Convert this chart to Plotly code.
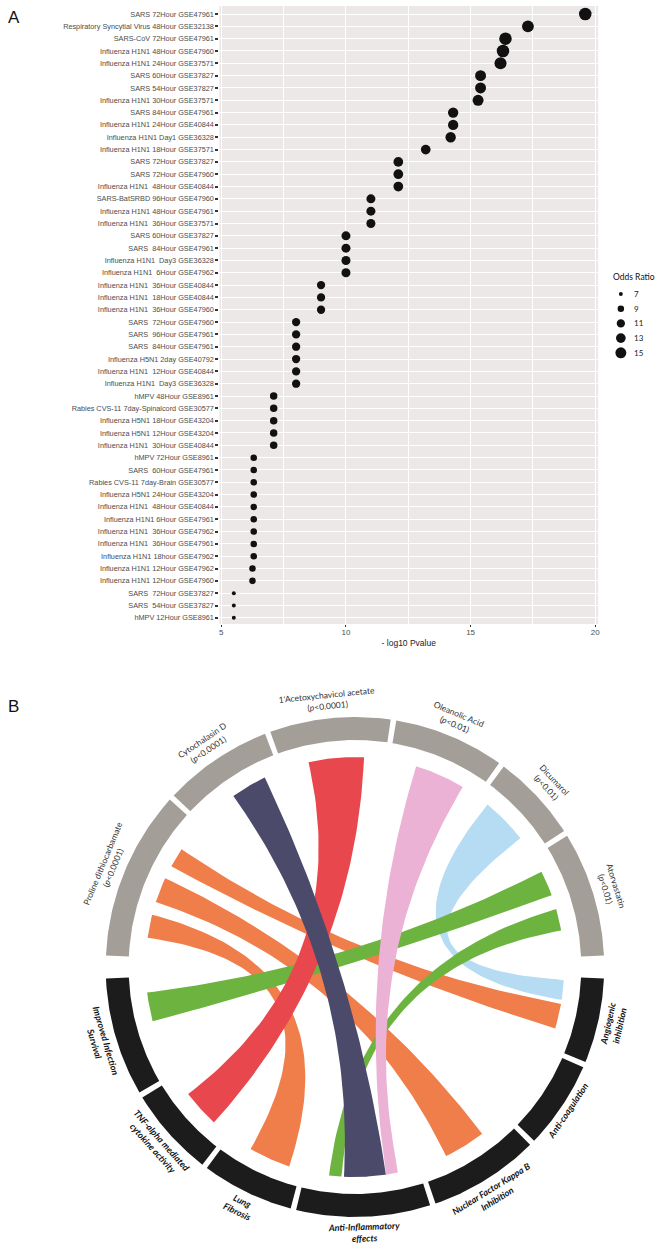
import numpy as np
import plotly.graph_objects as go

W, H = 671, 1250

# ---------------- Panel A data ----------------
datasets = [
    "SARS 72Hour GSE47961", "Respiratory Syncytial Virus 48Hour GSE32138", "SARS-CoV 72Hour GSE47961",
    "Influenza H1N1 48Hour GSE47960", "Influenza H1N1 24Hour GSE37571", "SARS 60Hour GSE37827",
    "SARS 54Hour GSE37827", "Influenza H1N1 30Hour GSE37571", "SARS 84Hour GSE47961",
    "Influenza H1N1 24Hour GSE40844", "Influenza H1N1 Day1 GSE36328", "Influenza H1N1 18Hour GSE37571",
    "SARS 72Hour GSE37827", "SARS 72Hour GSE47960", "Influenza H1N1  48Hour GSE40844",
    "SARS-BatSRBD 96Hour GSE47960", "Influenza H1N1 48Hour GSE47961", "Influenza H1N1  36Hour GSE37571",
    "SARS 60Hour GSE37827", "SARS  84Hour GSE47961", "Influenza H1N1  Day3 GSE36328",
    "Influenza H1N1  6Hour GSE47962", "Influenza H1N1  36Hour GSE40844", "Influenza H1N1  18Hour GSE40844",
    "Influenza H1N1  36Hour GSE47960", "SARS  72Hour GSE47960", "SARS  96Hour GSE47961",
    "SARS  84Hour GSE47961", "Influenza H5N1 2day GSE40792", "Influenza H1N1  12Hour GSE40844",
    "Influenza H1N1  Day3 GSE36328", "hMPV 48Hour GSE8961", "Rabies CVS-11 7day-Spinalcord GSE30577",
    "Influenza H5N1 18Hour GSE43204", "Influenza H5N1 12Hour GSE43204", "Influenza H1N1  30Hour GSE40844",
    "hMPV 72Hour GSE8961", "SARS  60Hour GSE47961", "Rabies CVS-11 7day-Brain GSE30577",
    "Influenza H5N1 24Hour GSE43204", "Influenza H1N1  48Hour GSE40844", "Influenza H1N1 6Hour GSE47961",
    "Influenza H1N1  36Hour GSE47962", "Influenza H1N1  36Hour GSE47961", "Influenza H1N1 18hour GSE47962",
    "Influenza H1N1 12Hour GSE47962", "Influenza H1N1 12Hour GSE47960", "SARS  72Hour GSE37827",
    "SARS  54Hour GSE37827", "hMPV 12Hour GSE8961",
]
neg_log10_p = [
    19.6, 17.3, 16.4, 16.3, 16.2, 15.4, 15.4, 15.3, 14.3, 14.3,
    14.2, 13.2, 12.1, 12.1, 12.1, 11.0, 11.0, 11.0, 10.0, 10.0,
    10.0, 10.0, 9.0, 9.0, 9.0, 8.0, 8.0, 8.0, 8.0, 8.0,
    8.0, 7.1, 7.1, 7.1, 7.1, 7.1, 6.3, 6.3, 6.3, 6.3,
    6.3, 6.3, 6.3, 6.3, 6.3, 6.25, 6.25, 5.5, 5.5, 5.5,
]
odds_ratio = [
    18, 16.5, 18, 18, 17, 15, 15, 15, 14, 14,
    14, 13, 13, 13, 13, 12, 12, 12, 12, 12,
    12, 12, 11, 11, 11, 11, 11, 11, 11, 11,
    11, 10, 10, 10, 10, 10, 9, 9, 9, 9,
    9, 9, 9, 9, 9, 9, 9, 7, 7, 7,
]
x_ticks = [5, 10, 15, 20]
legend_or = [7, 9, 11, 13, 15]

# ---------------- Panel B data ----------------
drugs = ["Proline dithiocarbamate", "Cytochalasin D", "1'Acetoxychavicol acetate",
         "Oleanolic Acid", "Dicumarol", "Atorvastatin"]
drug_p = ["0.0001", "0.0001", "0.0001", "0.01", "0.01", "0.01"]
drug_bounds = [-88.0, -47.3, -20.5, 8.9, 36.0, 57.7, 88.0]

effects = ["Angiogenic<br>inhibition", "Anti-coagulation", "Nuclear Factor Kappa B<br>Inhibition",
           "Anti-Inflammatory<br>effects", "Lung<br>Fibrosis", "TNF-alpha mediated<br>cytokine activity",
           "Improved Infection<br>Survival"]
effect_bounds = [92.0, 113.0, 134.7, 161.8, 194.3, 217.1, 239.2, 268.0]

# chords: source arc (deg) on drug ring -> target arc (deg) on effect ring
chord_src_a0 = [-61.3, -72.0, -82.0, 39.3, 63.0, 74.0, 17.0, -12.8, -35.5]
chord_src_a1 = [-55.9, -65.0, -75.6, 52.2, 70.0, 80.0, 31.0, 2.5, -25.5]
chord_dst_a0 = [100.0, 142.6, 198.3, 93.5, 255.0, 183.6, 168.0, 222.3, 171.5]
chord_dst_a1 = [107.0, 154.2, 209.9, 99.0, 263.0, 187.1, 171.4, 232.8, 183.0]
chord_color = ["#F07E4A", "#F07E4A", "#F07E4A", "#B5DCF2", "#6DB33F", "#6DB33F",
               "#EBB2D6", "#E8474E", "#4B4A6B"]

# ---------------- helpers ----------------
def px(x):
    return x / W

def py(y):
    return 1 - y / H

CX, CY = 356.0, 967.0
R_OUT, R_IN, R_CH, R_LAB, R_LAB_B = 250.0, 227.0, 210.0, 268.0, 266.0
GAP = 1.3


def pt(theta, r):
    t = np.radians(theta)
    return CX + r * np.sin(t), CY - r * np.cos(t)


def arc(a0, a1, r, n=60):
    t = np.linspace(a0, a1, n)
    x, y = pt(t, r)
    return list(x), list(y)


def bez(p0, p1, n=60):
    t = np.linspace(0, 1, n)
    x = (1 - t) ** 2 * p0[0] + 2 * t * (1 - t) * CX + t ** 2 * p1[0]
    y = (1 - t) ** 2 * p0[1] + 2 * t * (1 - t) * CY + t ** 2 * p1[1]
    return list(x), list(y)


def size_of(o):
    return 0.5 + 11.0 * np.sqrt(max(o - 6.0, 0.0) / 10.0)


fig = go.Figure()

# ---------------- Panel A ----------------
rows = list(range(1, len(datasets) + 1))
fig.add_trace(go.Scatter(
    x=neg_log10_p, y=rows, mode="markers",
    marker=dict(size=[size_of(o) for o in odds_ratio], color="#111111", opacity=1, line=dict(width=0)),
    xaxis="x", yaxis="y", hoverinfo="skip", showlegend=False))

# legend for odds ratio
leg_y = [294 + 14.7 * i for i in range(len(legend_or))]
fig.add_trace(go.Scatter(
    x=[622.7] * len(legend_or), y=leg_y, mode="markers",
    marker=dict(size=[size_of(o) for o in legend_or], color="#111111", opacity=1, line=dict(width=0)),
    xaxis="x3", yaxis="y3", hoverinfo="skip", showlegend=False))

annotations = []
for o, yy in zip(legend_or, leg_y):
    annotations.append(dict(x=px(634), y=py(yy), xref="paper", yref="paper", text=str(o),
                            showarrow=False, xanchor="left", yanchor="middle",
                            font=dict(size=8, color="#222", family="Lato")))
annotations.append(dict(x=px(613), y=py(277), xref="paper", yref="paper", text="Odds Ratio",
                        showarrow=False, xanchor="left", yanchor="middle",
                        font=dict(size=8.5, color="#111", family="Lato")))
annotations.append(dict(x=px(14), y=py(18), xref="paper", yref="paper", text="A",
                        showarrow=False, xanchor="center", yanchor="middle",
                        font=dict(size=17, color="#111", family="Liberation Sans")))
annotations.append(dict(x=px(14), y=py(706), xref="paper", yref="paper", text="B",
                        showarrow=False, xanchor="center", yanchor="middle",
                        font=dict(size=17, color="#111", family="Liberation Sans")))

# ---------------- Panel B ----------------
def ring(bounds, color):
    for i in range(len(bounds) - 1):
        a0, a1 = bounds[i] + GAP / 2, bounds[i + 1] - GAP / 2
        xo, yo = arc(a0, a1, R_OUT)
        xi, yi = arc(a1, a0, R_IN)
        fig.add_trace(go.Scatter(x=xo + xi, y=yo + yi, mode="lines", fill="toself",
                                 fillcolor=color, line=dict(width=0), xaxis="x2", yaxis="y2",
                                 hoverinfo="skip", showlegend=False))

ring(drug_bounds, "#A49E98")
ring(effect_bounds, "#1C1C1C")

for s0, s1, d0, d1, col in zip(chord_src_a0, chord_src_a1, chord_dst_a0, chord_dst_a1, chord_color):
    x1, y1 = arc(s0, s1, R_CH)
    x2, y2 = bez(pt(s1, R_CH), pt(d0, R_CH))
    x3, y3 = arc(d0, d1, R_CH)
    x4, y4 = bez(pt(d1, R_CH), pt(s0, R_CH))
    fig.add_trace(go.Scatter(x=x1 + x2 + x3 + x4, y=y1 + y2 + y3 + y4, mode="lines", fill="toself",
                             fillcolor=col, line=dict(width=0), xaxis="x2", yaxis="y2",
                             hoverinfo="skip", showlegend=False))

for i, name in enumerate(drugs):
    m = (drug_bounds[i] + drug_bounds[i + 1]) / 2
    x, y = pt(m, R_LAB)
    annotations.append(dict(x=x, y=y, xref="x2", yref="y2",
                            text=f"{name}<br>(<i>p</i>&lt;{drug_p[i]})",
                            showarrow=False, textangle=m, xanchor="center", yanchor="middle",
                            font=dict(size=8.5, color="#333", family="Lato")))

for i, name in enumerate(effects):
    m = (effect_bounds[i] + effect_bounds[i + 1]) / 2
    r = R_LAB_B if "<br>" in name else R_LAB_B - 9
    x, y = pt(m, r)
    annotations.append(dict(x=x, y=y, xref="x2", yref="y2",
                            text=f"<b><i>{name}</i></b>",
                            showarrow=False, textangle=m - 180, xanchor="center", yanchor="middle",
                            font=dict(size=9, color="#111", family="Lato")))

shapes = [dict(type="rect", xref="x domain", yref="y domain", x0=0, x1=1, y0=0, y1=1,
               fillcolor="#ECE8E7", line=dict(width=0), layer="below")]

hidden = dict(visible=False, showgrid=False, zeroline=False, fixedrange=True)

fig.update_layout(
    width=W, height=H, margin=dict(l=0, r=0, t=0, b=0),
    paper_bgcolor="white", plot_bgcolor="rgba(0,0,0,0)",
    showlegend=False, shapes=shapes, annotations=annotations,
    xaxis=dict(domain=[px(220), px(600)], range=[4.92, 20.12], tickvals=x_ticks,
               showgrid=True, gridcolor="white", gridwidth=1.4, zeroline=False,
               minor=dict(tickvals=[7.5, 12.5, 17.5], showgrid=True, gridcolor="white", gridwidth=0.7),
               ticks="outside", ticklen=2, tickcolor="#333", tickwidth=1, ticklabelstandoff=-2,
               tickfont=dict(size=8, color="#4D4D4D", family="Liberation Sans"),
               title=dict(text="- log10 Pvalue", standoff=4,
                          font=dict(size=8.5, color="#222", family="Liberation Sans")),
               anchor="y", fixedrange=True, showline=False),
    yaxis=dict(domain=[py(624), py(6)], range=[50.5, 0.35], tickvals=rows, ticktext=datasets,
               showgrid=True, gridcolor="white", gridwidth=1.4, zeroline=False,
               ticks="outside", ticklen=3, tickcolor="#333", tickwidth=2,
               tickfont=dict(size=7.3, color="#4D4D4D", family="Liberation Sans"),
               anchor="x", fixedrange=True, showline=False),
    xaxis2=dict(domain=[0, 1], range=[0, W], anchor="y2", **hidden),
    yaxis2=dict(domain=[0, py(672)], range=[H, 672], anchor="x2", **hidden),
    xaxis3=dict(domain=[px(605), px(671)], range=[605, 671], anchor="y3", **hidden),
    yaxis3=dict(domain=[py(375), py(270)], range=[375, 270], anchor="x3", **hidden),
)

fig.write_html("out.html", config={"displayModeBar": False},
               post_script="document.body.style.margin='0px';")
